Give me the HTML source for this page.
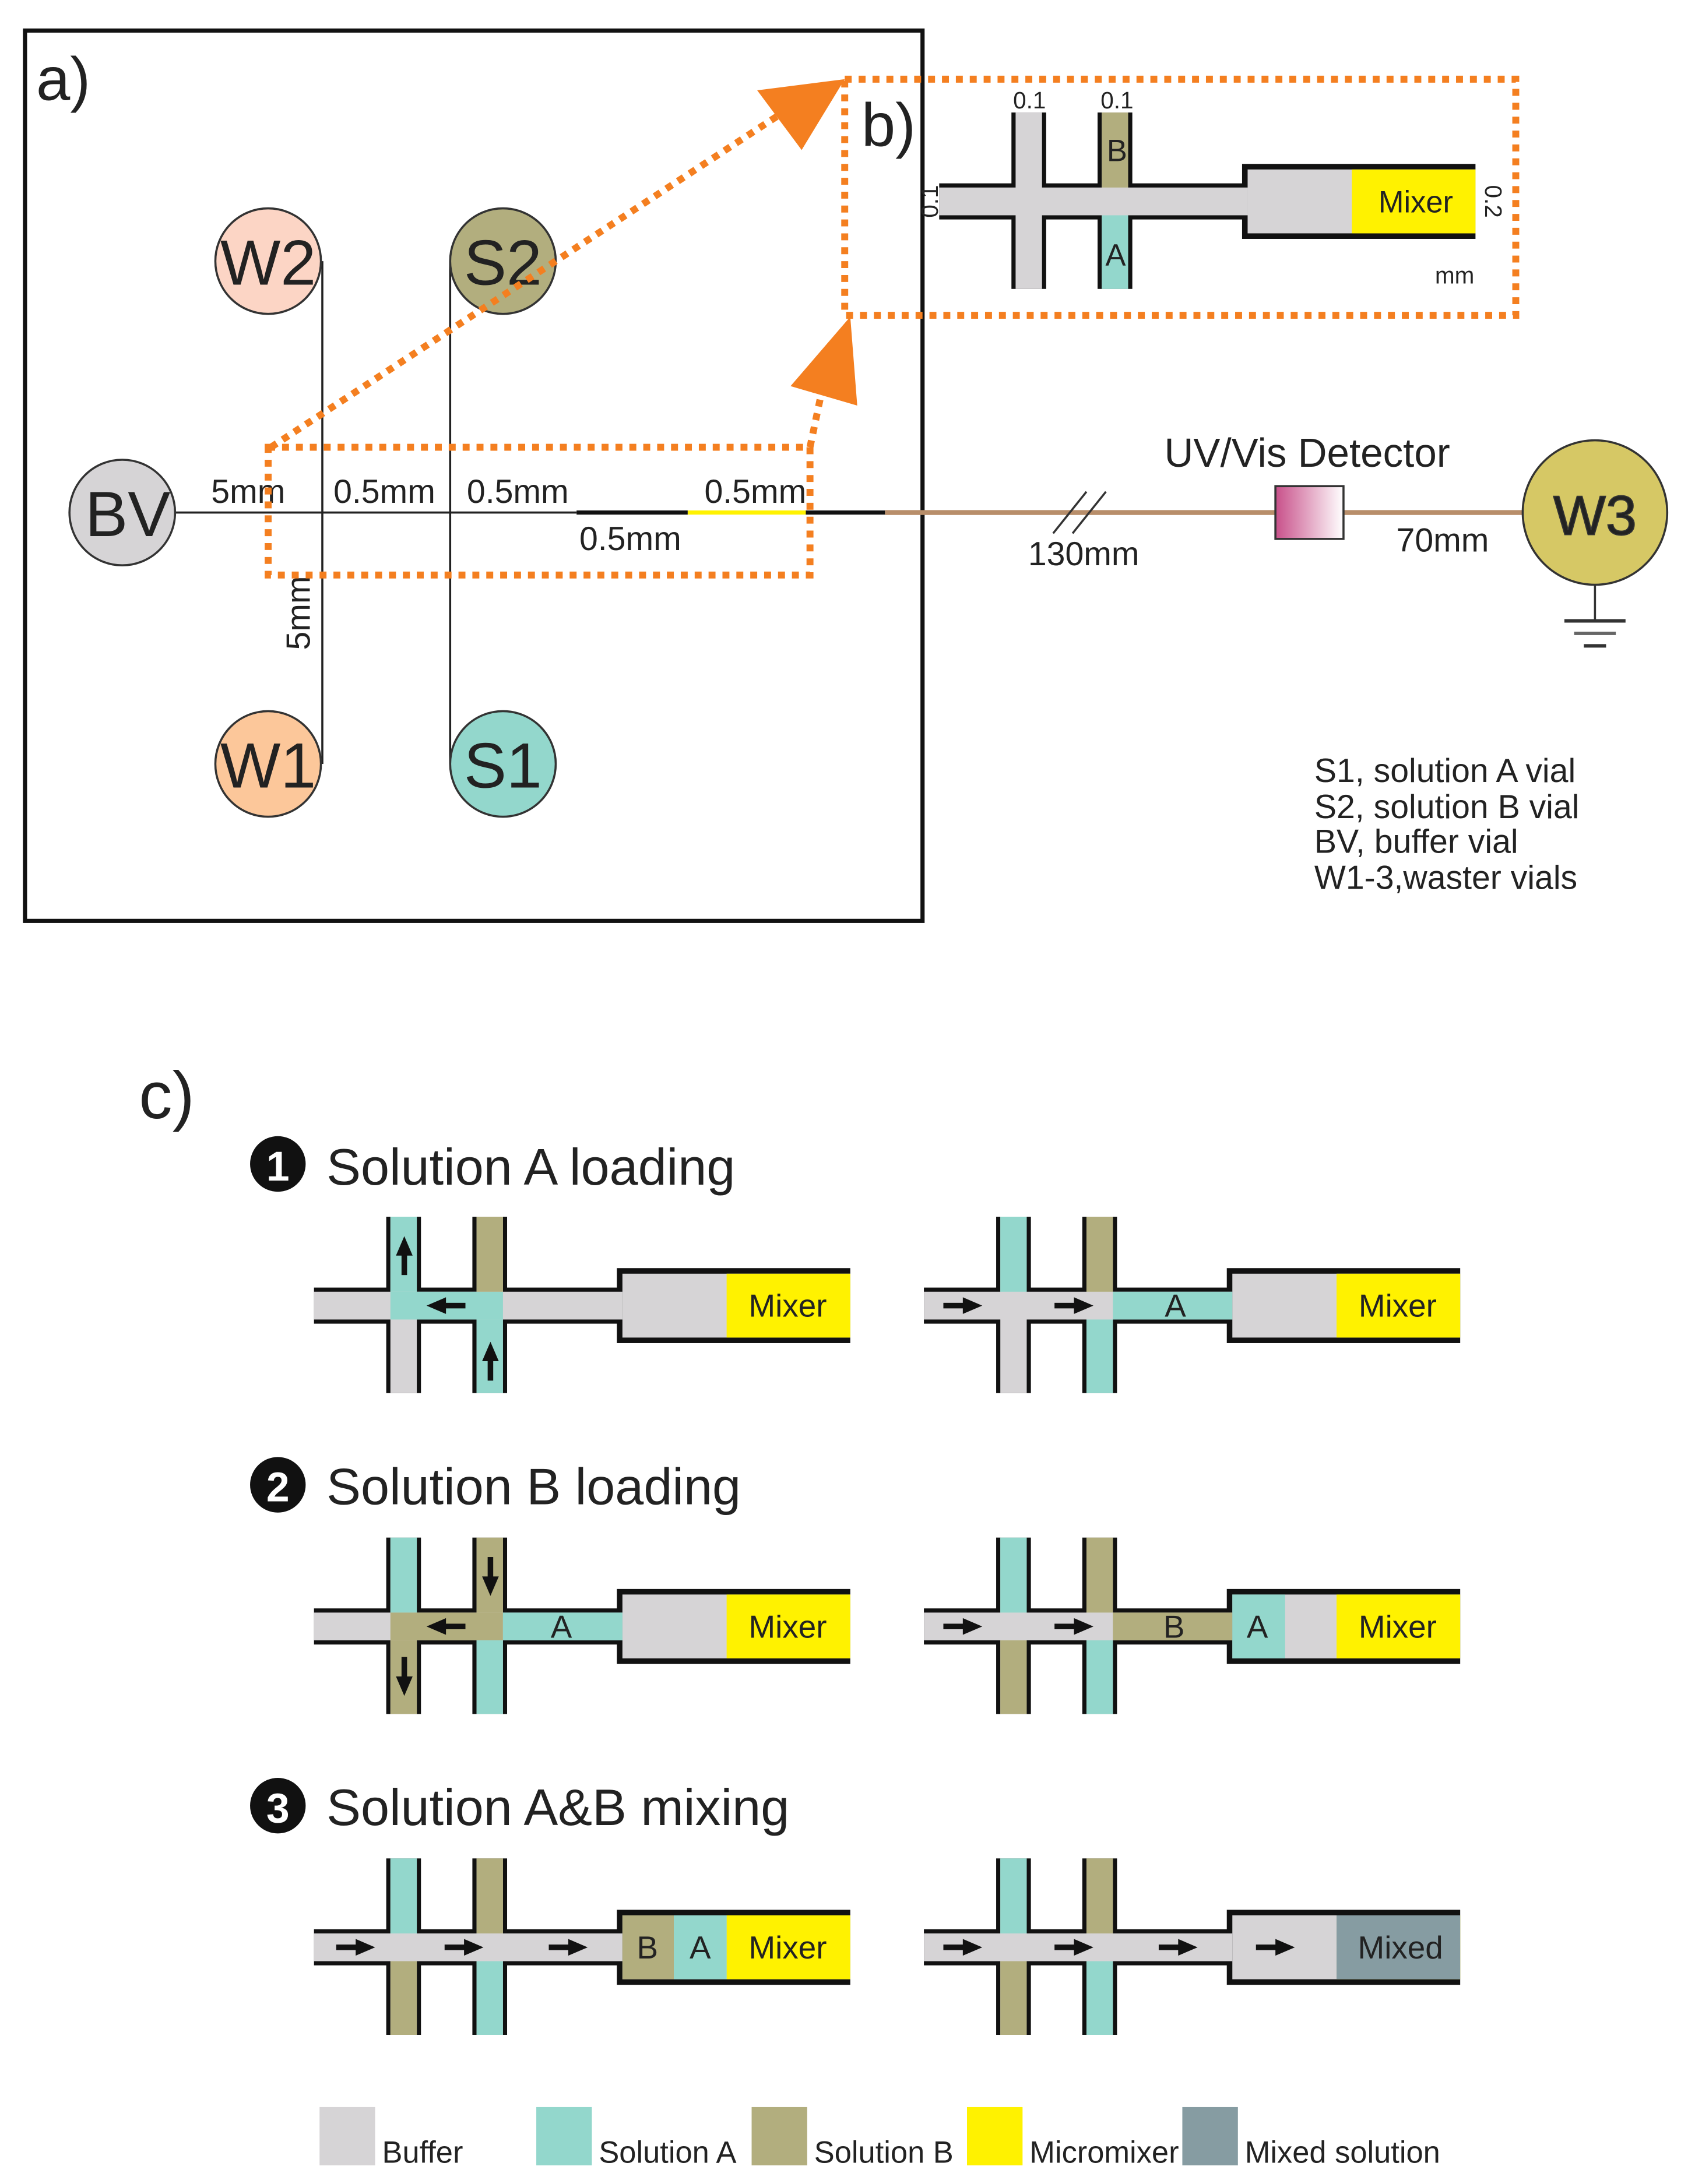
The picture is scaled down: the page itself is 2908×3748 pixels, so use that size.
<!DOCTYPE html>
<html><head><meta charset="utf-8">
<style>
html,body{margin:0;padding:0;background:#fff;}
svg{display:block;}
text{font-family:"Liberation Sans",sans-serif;fill:#222;}
</style></head>
<body>
<svg width="2908" height="3748" viewBox="0 0 1220 1572.4" xmlns="http://www.w3.org/2000/svg">
<defs>
<g id="chip">
  <rect x="0" y="-13" width="222" height="26" fill="#111"/>
  <rect x="218" y="-27" width="168" height="54" fill="#111"/>
  <rect x="52" y="-64" width="25" height="127" fill="#111"/>
  <rect x="114" y="-64" width="25" height="127" fill="#111"/>
  <rect x="0" y="-10" width="222" height="20" fill="#d6d4d6"/>
  <rect x="55" y="-64" width="19" height="127" fill="#d6d4d6"/>
  <rect x="117" y="-64" width="19" height="127" fill="#d6d4d6"/>
  <rect x="222" y="-23" width="164" height="46" fill="#d6d4d6"/>
  <rect x="297" y="-23" width="89" height="46" fill="#fff200"/>
</g>
<g id="ar"><rect x="-14" y="-2" width="16" height="4" fill="#111"/><polygon points="0,-6 14,0 0,6" fill="#111"/></g>
<linearGradient id="det" x1="0" x2="1"><stop offset="0" stop-color="#c8508a"/><stop offset="1" stop-color="#fff"/></linearGradient>
</defs>

<!-- Panel a -->
<rect x="18" y="22" width="646" height="641" fill="none" stroke="#111" stroke-width="3"/>
<text x="26" y="72" font-size="44">a)</text>

<line x1="232" y1="188" x2="232" y2="550" stroke="#222" stroke-width="1.5"/>
<line x1="324" y1="188" x2="324" y2="550" stroke="#222" stroke-width="1.5"/>
<line x1="126" y1="369" x2="415" y2="369" stroke="#222" stroke-width="1.5"/>
<line x1="415" y1="369" x2="495" y2="369" stroke="#111" stroke-width="3"/>
<line x1="495" y1="369" x2="580" y2="369" stroke="#fff200" stroke-width="3"/>
<line x1="580" y1="369" x2="637" y2="369" stroke="#111" stroke-width="3"/>
<line x1="637" y1="369" x2="1096" y2="369" stroke="#b88e6a" stroke-width="3.5"/>
<line x1="758" y1="384" x2="782" y2="354" stroke="#333" stroke-width="1.5"/>
<line x1="772" y1="384" x2="796" y2="354" stroke="#333" stroke-width="1.5"/>
<rect x="918" y="350" width="49" height="38" fill="url(#det)" stroke="#333" stroke-width="1.5"/>

<circle cx="193" cy="188" r="38" fill="#fcd5c5" stroke="#333" stroke-width="1.5"/>
<circle cx="362" cy="188" r="38" fill="#b2ae7e" stroke="#333" stroke-width="1.5"/>
<circle cx="88" cy="369" r="38" fill="#d6d4d6" stroke="#333" stroke-width="1.5"/>
<circle cx="193" cy="550" r="38" fill="#fcc79a" stroke="#333" stroke-width="1.5"/>
<circle cx="362" cy="550" r="38" fill="#93d7cc" stroke="#333" stroke-width="1.5"/>
<circle cx="1148" cy="369" r="52" fill="#d6c865" stroke="#333" stroke-width="1.5"/>
<g font-size="46" text-anchor="middle">
<text x="193" y="205">W2</text><text x="362" y="205">S2</text><text x="92" y="386">BV</text>
<text x="193" y="567">W1</text><text x="362" y="567">S1</text>
</g>
<text x="1148" y="385" font-size="40" text-anchor="middle" fill="#555" stroke="#333" stroke-width="0.8">W3</text>
<line x1="1148" y1="421" x2="1148" y2="447" stroke="#333" stroke-width="1.5"/>
<line x1="1126" y1="447" x2="1170" y2="447" stroke="#333" stroke-width="2.5"/>
<line x1="1133" y1="456" x2="1163" y2="456" stroke="#666" stroke-width="2.5"/>
<line x1="1140" y1="465" x2="1156" y2="465" stroke="#333" stroke-width="2.5"/>

<g font-size="24">
<text x="152" y="362">5mm</text>
<text x="240" y="362">0.5mm</text>
<text x="336" y="362">0.5mm</text>
<text x="507" y="362">0.5mm</text>
<text x="417" y="396">0.5mm</text>
<text x="0" y="0" transform="translate(223,468) rotate(-90)">5mm</text>
<text x="740" y="407">130mm</text>
<text x="1005" y="397">70mm</text>
<text x="838" y="336" font-size="29">UV/Vis Detector</text>
<text x="946" y="563">S1, solution A vial</text>
<text x="946" y="589">S2, solution B vial</text>
<text x="946" y="614">BV, buffer vial</text>
<text x="946" y="640">W1-3,waster vials</text>
</g>

<!-- orange zoom boxes and arrows -->
<g fill="none" stroke="#f47f20" stroke-width="5" stroke-dasharray="5,5">
<rect x="193" y="322" width="390" height="92"/>
<rect x="608" y="57" width="483" height="170"/>
<line x1="195" y1="322" x2="565" y2="80"/>
<line x1="583" y1="322" x2="595" y2="265"/>
</g>
<polygon points="608,57 577,108 545,65" fill="#f47f20"/>
<polygon points="612,228 617,292 569,278" fill="#f47f20"/>

<!-- Panel b -->
<text x="620" y="105" font-size="44">b)</text>
<use href="#chip" x="676" y="145"/>
<rect x="793" y="81" width="19" height="54" fill="#b2ae7e"/>
<rect x="793" y="155" width="19" height="53" fill="#93d7cc"/>
<g font-size="17" text-anchor="middle">
<text x="741" y="78">0.1</text><text x="804" y="78">0.1</text>
<text x="0" y="0" transform="translate(675,145) rotate(-90)">0.1</text>
<text x="0" y="0" transform="translate(1069,145) rotate(90)">0.2</text>
<text x="1047" y="204">mm</text>
</g>
<g font-size="22" text-anchor="middle">
<text x="804" y="116">B</text><text x="803" y="191">A</text><text x="1019" y="153">Mixer</text>
</g>

<!-- Panel c -->
<text x="100" y="805" font-size="48">c)</text>
<circle cx="200" cy="838" r="20" fill="#111"/><text x="200" y="850" font-size="30" text-anchor="middle" style="fill:#fff;font-weight:bold">1</text>
<text x="235" y="853" font-size="37">Solution A loading</text>
<circle cx="200" cy="1069" r="20" fill="#111"/><text x="200" y="1081" font-size="30" text-anchor="middle" style="fill:#fff;font-weight:bold">2</text>
<text x="235" y="1083" font-size="37">Solution B loading</text>
<circle cx="200" cy="1300" r="20" fill="#111"/><text x="200" y="1312" font-size="30" text-anchor="middle" style="fill:#fff;font-weight:bold">3</text>
<text x="235" y="1314" font-size="37">Solution A&amp;B mixing</text>

<!-- step1 left -->
<g transform="translate(226,940)">
<use href="#chip"/>
<rect x="55" y="-64" width="19" height="54" fill="#93d7cc"/>
<rect x="55" y="-10" width="81" height="20" fill="#93d7cc"/>
<rect x="117" y="-64" width="19" height="54" fill="#b2ae7e"/>
<rect x="117" y="10" width="19" height="53" fill="#93d7cc"/>
<use href="#ar" transform="translate(65,-36) rotate(-90)"/>
<use href="#ar" transform="translate(127,40) rotate(-90)"/>
<use href="#ar" transform="translate(95,0) rotate(180)"/>
<text x="341" y="8" font-size="23" text-anchor="middle">Mixer</text>
</g>
<!-- step1 right -->
<g transform="translate(665,940)">
<use href="#chip"/>
<rect x="55" y="-64" width="19" height="54" fill="#93d7cc"/>
<rect x="117" y="-64" width="19" height="54" fill="#b2ae7e"/>
<rect x="117" y="10" width="19" height="53" fill="#93d7cc"/>
<rect x="136" y="-10" width="86" height="20" fill="#93d7cc"/>
<use href="#ar" transform="translate(28,0)"/>
<use href="#ar" transform="translate(108,0)"/>
<text x="181" y="8" font-size="23" text-anchor="middle">A</text>
<text x="341" y="8" font-size="23" text-anchor="middle">Mixer</text>
</g>
<!-- step2 left -->
<g transform="translate(226,1171)">
<use href="#chip"/>
<rect x="55" y="-64" width="19" height="54" fill="#93d7cc"/>
<rect x="55" y="10" width="19" height="53" fill="#b2ae7e"/>
<rect x="55" y="-10" width="81" height="20" fill="#b2ae7e"/>
<rect x="117" y="-64" width="19" height="54" fill="#b2ae7e"/>
<rect x="117" y="10" width="19" height="53" fill="#93d7cc"/>
<rect x="136" y="-10" width="86" height="20" fill="#93d7cc"/>
<use href="#ar" transform="translate(127,-36) rotate(90)"/>
<use href="#ar" transform="translate(65,36) rotate(90)"/>
<use href="#ar" transform="translate(95,0) rotate(180)"/>
<text x="178" y="8" font-size="23" text-anchor="middle">A</text>
<text x="341" y="8" font-size="23" text-anchor="middle">Mixer</text>
</g>
<!-- step2 right -->
<g transform="translate(665,1171)">
<use href="#chip"/>
<rect x="55" y="-64" width="19" height="54" fill="#93d7cc"/>
<rect x="55" y="10" width="19" height="53" fill="#b2ae7e"/>
<rect x="117" y="-64" width="19" height="54" fill="#b2ae7e"/>
<rect x="117" y="10" width="19" height="53" fill="#93d7cc"/>
<rect x="136" y="-10" width="86" height="20" fill="#b2ae7e"/>
<rect x="222" y="-23" width="38" height="46" fill="#93d7cc"/>
<use href="#ar" transform="translate(28,0)"/>
<use href="#ar" transform="translate(108,0)"/>
<text x="180" y="8" font-size="23" text-anchor="middle">B</text>
<text x="240" y="8" font-size="23" text-anchor="middle">A</text>
<text x="341" y="8" font-size="23" text-anchor="middle">Mixer</text>
</g>
<!-- step3 left -->
<g transform="translate(226,1402)">
<use href="#chip"/>
<rect x="55" y="-64" width="19" height="54" fill="#93d7cc"/>
<rect x="55" y="10" width="19" height="53" fill="#b2ae7e"/>
<rect x="117" y="-64" width="19" height="54" fill="#b2ae7e"/>
<rect x="117" y="10" width="19" height="53" fill="#93d7cc"/>
<rect x="222" y="-23" width="37" height="46" fill="#b2ae7e"/>
<rect x="259" y="-23" width="38" height="46" fill="#93d7cc"/>
<use href="#ar" transform="translate(30,0)"/>
<use href="#ar" transform="translate(108,0)"/>
<use href="#ar" transform="translate(183,0)"/>
<text x="240" y="8" font-size="23" text-anchor="middle">B</text>
<text x="278" y="8" font-size="23" text-anchor="middle">A</text>
<text x="341" y="8" font-size="23" text-anchor="middle">Mixer</text>
</g>
<!-- step3 right -->
<g transform="translate(665,1402)">
<use href="#chip"/>
<rect x="55" y="-64" width="19" height="54" fill="#93d7cc"/>
<rect x="55" y="10" width="19" height="53" fill="#b2ae7e"/>
<rect x="117" y="-64" width="19" height="54" fill="#b2ae7e"/>
<rect x="117" y="10" width="19" height="53" fill="#93d7cc"/>
<rect x="297" y="-23" width="89" height="46" fill="#869ca2"/>
<use href="#ar" transform="translate(28,0)"/>
<use href="#ar" transform="translate(108,0)"/>
<use href="#ar" transform="translate(183,0)"/>
<use href="#ar" transform="translate(253,0)"/>
<text x="343" y="8" font-size="23" text-anchor="middle">Mixed</text>
</g>

<!-- legend -->
<rect x="230" y="1517" width="40" height="42" fill="#d6d4d6"/>
<rect x="386" y="1517" width="40" height="42" fill="#93d7cc"/>
<rect x="541" y="1517" width="40" height="42" fill="#b2ae7e"/>
<rect x="696" y="1517" width="40" height="42" fill="#fff200"/>
<rect x="851" y="1517" width="40" height="42" fill="#869ca2"/>
<g font-size="22">
<text x="275" y="1557">Buffer</text>
<text x="431" y="1557">Solution A</text>
<text x="586" y="1557">Solution B</text>
<text x="741" y="1557">Micromixer</text>
<text x="896" y="1557">Mixed solution</text>
</g>
</svg>
</body></html>
